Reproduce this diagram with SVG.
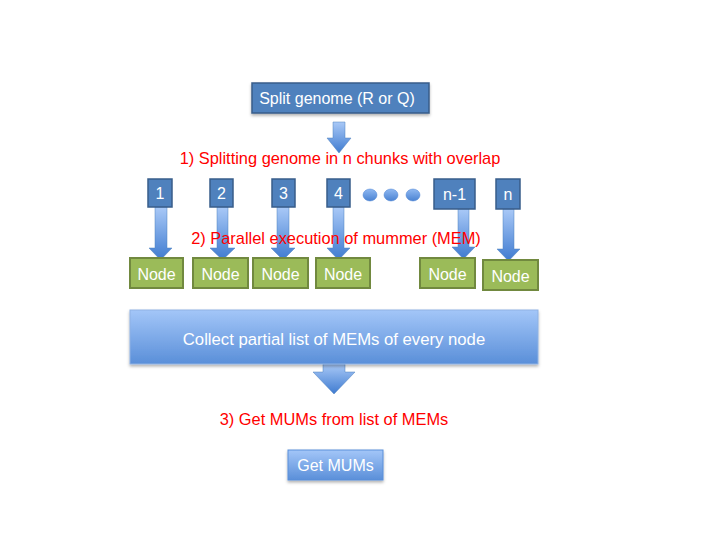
<svg xmlns="http://www.w3.org/2000/svg" width="720" height="540" viewBox="0 0 720 540">
<defs>
<linearGradient id="arrowG" x1="0" y1="0" x2="0" y2="1">
<stop offset="0" stop-color="#a9c9f7"/>
<stop offset="1" stop-color="#3f7bd0"/>
</linearGradient>
<linearGradient id="boxG" x1="0" y1="0" x2="0" y2="1">
<stop offset="0" stop-color="#a3c6f8"/>
<stop offset="1" stop-color="#5a8fd9"/>
</linearGradient>
<linearGradient id="dotG" x1="0" y1="0" x2="0" y2="1">
<stop offset="0" stop-color="#8fb8f2"/>
<stop offset="1" stop-color="#4a82d2"/>
</linearGradient>
<filter id="sh" x="-10%" y="-10%" width="120%" height="140%">
<feDropShadow dx="0" dy="2" stdDeviation="1.5" flood-color="#000" flood-opacity="0.3"/>
</filter>
</defs>
<style>
.dark{fill:#4f81bd;stroke:#385d8a;stroke-width:1.5}
.node{fill:#9bbb59;stroke:#71893f;stroke-width:2}
.wt{fill:#fff;font-family:"Liberation Sans",Arial,sans-serif;text-anchor:middle;font-size:16px}
.big{font-size:16.7px}
.red{fill:#ff0000;font-family:"Liberation Sans",Arial,sans-serif;font-size:16.4px;text-anchor:middle}
.arr{fill:url(#arrowG);stroke:#4f81bd;stroke-width:0.5}
</style>
<g id="split">
<rect class="dark" x="252" y="83" width="177" height="30" filter="url(#sh)"/>
<text class="wt" x="337" y="104">Split genome (R or Q)</text>
</g>
<g id="connectors">
<path class="arr" d="M333,122 H345 V138 H351 L339,153 L327,138 H333 Z"/>
<path class="arr" d="M155,207 H167 V248 H172 L160.5,260 L149,248 H155 Z"/>
<path class="arr" d="M217,207 H228 V248 H235 L222.5,260 L210,248 H217 Z"/>
<path class="arr" d="M277,207 H289 V248 H295 L283,260 L271,248 H277 Z"/>
<path class="arr" d="M333,207 H344 V248 H350 L338.5,260 L327,248 H333 Z"/>
<path class="arr" d="M458,209 H469 V247 H475 L463.5,259 L452,247 H458 Z"/>
<path class="arr" d="M503,209 H514 V249 H520 L508.5,261 L497,249 H503 Z"/>
<path class="arr" d="M323,364 H345 V372 H355 L334,394 L313,372 H323 Z"/>
</g>
<text class="red" x="340" y="164">1) Splitting genome in n chunks with overlap</text>
<g id="c1"><rect class="dark" x="148" y="179" width="24" height="28"/><text class="wt" x="160" y="199">1</text></g>
<g id="c2"><rect class="dark" x="210" y="179" width="23" height="28"/><text class="wt" x="221.5" y="199">2</text></g>
<g id="c3"><rect class="dark" x="272" y="179" width="23" height="28"/><text class="wt" x="283.5" y="199">3</text></g>
<g id="c4"><rect class="dark" x="327" y="179" width="23" height="28"/><text class="wt" x="338.5" y="199">4</text></g>
<g id="dots" stroke="#4a82d2" stroke-width="0.5">
<ellipse cx="370" cy="195" rx="7" ry="6" fill="url(#dotG)"/>
<ellipse cx="391" cy="195" rx="7" ry="6" fill="url(#dotG)"/>
<ellipse cx="413" cy="195" rx="7" ry="6" fill="url(#dotG)"/>
</g>
<g id="cn1"><rect class="dark" x="434" y="179" width="41" height="30"/><text class="wt" x="454.5" y="200">n-1</text></g>
<g id="cn"><rect class="dark" x="496" y="179" width="24" height="30"/><text class="wt" x="508" y="200">n</text></g>
<text class="red" x="336" y="244">2) Parallel execution of mummer (MEM)</text>
<g id="n1"><rect class="node" x="130" y="258" width="53" height="30"/><text class="wt" x="156.5" y="280">Node</text></g>
<g id="n2"><rect class="node" x="193" y="258" width="55" height="30"/><text class="wt" x="220.5" y="280">Node</text></g>
<g id="n3"><rect class="node" x="253" y="258" width="55" height="30"/><text class="wt" x="280.5" y="280">Node</text></g>
<g id="n4"><rect class="node" x="316" y="258" width="54" height="30"/><text class="wt" x="343" y="280">Node</text></g>
<g id="n5"><rect class="node" x="420" y="258" width="55" height="30"/><text class="wt" x="447.5" y="280">Node</text></g>
<g id="n6"><rect class="node" x="483" y="260" width="55" height="30"/><text class="wt" x="510.5" y="282">Node</text></g>
<g id="collect">
<rect x="130" y="310" width="408" height="54" fill="url(#boxG)" stroke="#8fb2e3" stroke-width="1" filter="url(#sh)"/>
<text class="wt big" x="334" y="345">Collect partial list of MEMs of every node</text>
</g>
<text class="red" x="334" y="425">3) Get MUMs from list of MEMs</text>
<g id="getmums">
<rect x="288" y="450" width="95" height="30" fill="url(#boxG)" stroke="#5a8fd9" stroke-width="1" filter="url(#sh)"/>
<text class="wt" x="335.5" y="471">Get MUMs</text>
</g>
</svg>
